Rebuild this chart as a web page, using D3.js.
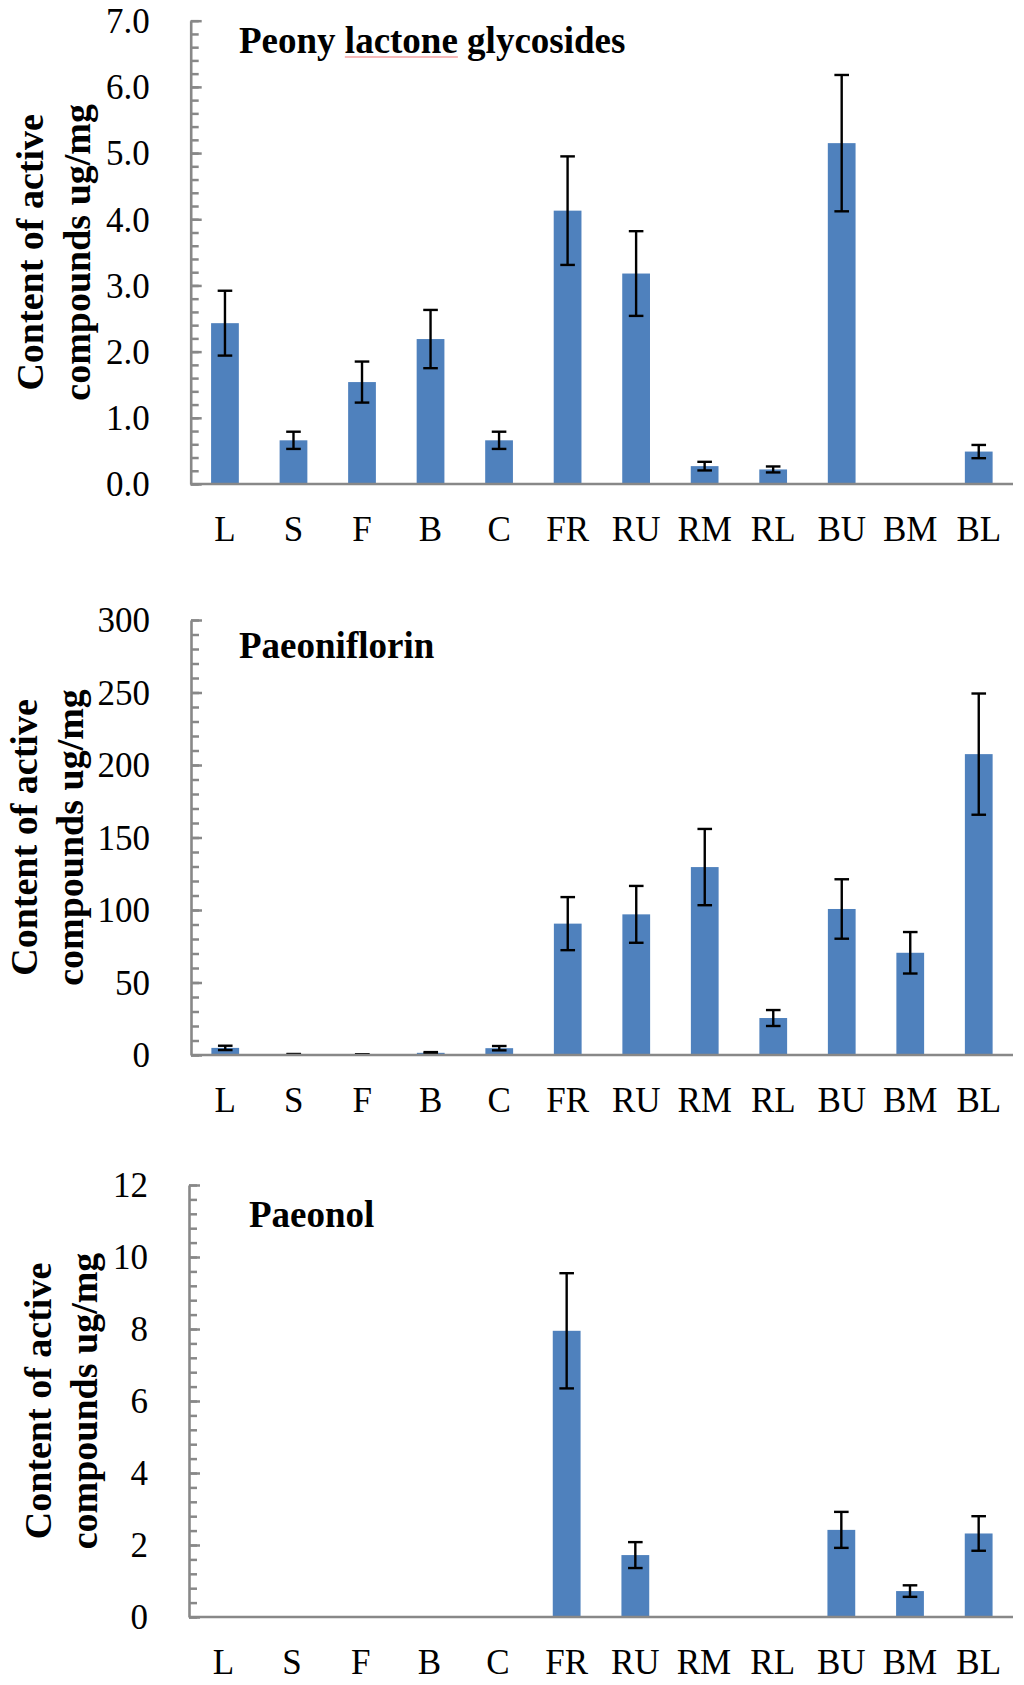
<!DOCTYPE html>
<html>
<head>
<meta charset="utf-8">
<script src="https://cdn.jsdelivr.net/npm/d3@7"></script>
<style>
  html, body { margin: 0; padding: 0; background: #ffffff; }
  svg { display: block; }
</style>
</head>
<body>
<svg id="chart"></svg>
<script>
const categories = ['L', 'S', 'F', 'B', 'C', 'FR', 'RU', 'RM', 'RL', 'BU', 'BM', 'BL'];

// Peony lactone glycosides
const peonyValues = [2.43, 0.66, 1.54, 2.19, 0.66, 4.13, 3.18, 0.27, 0.22, 5.15, 0, 0.49];
const peonyErrors = [0.49, 0.13, 0.31, 0.44, 0.13, 0.82, 0.64, 0.065, 0.045, 1.03, 0, 0.1];
const peonyTicks = [0, 1, 2, 3, 4, 5, 6, 7];

// Paeoniflorin
const paeoniflorinValues = [4.9, 0.5, 0.4, 1.5, 4.7, 90.6, 97, 129.6, 25.5, 100.7, 70.5, 207.5];
const paeoniflorinErrors = [1.5, 0.2, 0.1, 0.5, 1.5, 18.3, 19.6, 26.3, 5.5, 20.5, 14.3, 41.8];
const paeoniflorinTicks = [0, 50, 100, 150, 200, 250, 300];

// Paeonol
const paeonolValues = [0, 0, 0, 0, 0, 7.95, 1.72, 0, 0, 2.42, 0.72, 2.32];
const paeonolErrors = [0, 0, 0, 0, 0, 1.6, 0.36, 0, 0, 0.5, 0.16, 0.48];
const paeonolTicks = [0, 2, 4, 6, 8, 10, 12];

const width = 1024, height = 1685;
const barColor = '#4f81bd';
const axisColor = '#888888';
const serif = '"Liberation Serif", "Times New Roman", serif';

const svg = d3.select('#chart')
  .attr('width', width)
  .attr('height', height)
  .attr('font-family', serif);

const panels = [
  { title: 'Peony lactone glycosides', values: peonyValues, errors: peonyErrors, ticks: peonyTicks,
    minor: 0.2, fmt: d3.format('.1f'), top: 20.7, bottom: 484, left: 190.7, titleX: 239, titleY: 53,
    lab1: 43, lab2: 90 },
  { title: 'Paeoniflorin', values: paeoniflorinValues, errors: paeoniflorinErrors, ticks: paeoniflorinTicks,
    minor: 10, fmt: d3.format('d'), top: 620, bottom: 1055, left: 191, titleX: 239, titleY: 658,
    lab1: 37, lab2: 83 },
  { title: 'Paeonol', values: paeonolValues, errors: paeonolErrors, ticks: paeonolTicks,
    minor: 0.4, fmt: d3.format('d'), top: 1185, bottom: 1617, left: 189, titleX: 249, titleY: 1227,
    lab1: 51, lab2: 97 }
];

const right = 1013;

panels.forEach((p, pi) => {
  const g = svg.append('g');
  const maxV = p.ticks[p.ticks.length - 1];

  const x = d3.scaleBand()
    .domain(categories)
    .range([p.left, right])
    .paddingInner(0.595)
    .paddingOuter(0.2975);

  const y = d3.scaleLinear()
    .domain([0, maxV])
    .range([p.bottom, p.top]);

  // bars
  g.selectAll('rect.bar')
    .data(categories)
    .enter().append('rect')
    .attr('class', 'bar')
    .attr('x', d => x(d))
    .attr('width', x.bandwidth())
    .attr('y', (d, i) => y(p.values[i]))
    .attr('height', (d, i) => p.bottom - y(p.values[i]))
    .attr('fill', barColor);

  // error bars
  const errIdx = categories.map((d, i) => i).filter(i => p.values[i] > 0);
  const capW = 7.3;
  const err = g.selectAll('g.err')
    .data(errIdx)
    .enter().append('g')
    .attr('class', 'err')
    .attr('stroke', '#000')
    .attr('stroke-width', 2.4);
  err.append('line')
    .attr('x1', i => x(categories[i]) + x.bandwidth() / 2)
    .attr('x2', i => x(categories[i]) + x.bandwidth() / 2)
    .attr('y1', i => y(p.values[i] + p.errors[i]))
    .attr('y2', i => y(Math.max(0, p.values[i] - p.errors[i])));
  err.append('line')
    .attr('x1', i => x(categories[i]) + x.bandwidth() / 2 - capW)
    .attr('x2', i => x(categories[i]) + x.bandwidth() / 2 + capW)
    .attr('y1', i => y(p.values[i] + p.errors[i]))
    .attr('y2', i => y(p.values[i] + p.errors[i]));
  err.append('line')
    .attr('x1', i => x(categories[i]) + x.bandwidth() / 2 - capW)
    .attr('x2', i => x(categories[i]) + x.bandwidth() / 2 + capW)
    .attr('y1', i => y(Math.max(0, p.values[i] - p.errors[i])))
    .attr('y2', i => y(Math.max(0, p.values[i] - p.errors[i])));

  // y axis: minor ticks, then major ticks pointing inward
  const minorTicks = d3.range(0, maxV + p.minor / 2, p.minor);
  const yMinor = g.append('g')
    .attr('transform', `translate(${p.left},0)`)
    .call(d3.axisRight(y).tickValues(minorTicks).tickSize(8).tickFormat(''));
  yMinor.select('.domain').remove();
  yMinor.selectAll('line').attr('stroke', axisColor).attr('stroke-width', 2.5);

  const yAxis = g.append('g')
    .attr('transform', `translate(${p.left},0)`)
    .call(d3.axisRight(y).tickValues(p.ticks).tickSize(11).tickSizeOuter(0).tickFormat(''));
  yAxis.select('.domain').attr('stroke', axisColor).attr('stroke-width', 2.6);
  yAxis.selectAll('line').attr('stroke', axisColor).attr('stroke-width', 2.5);

  // y tick labels
  g.selectAll('text.ytick')
    .data(p.ticks)
    .enter().append('text')
    .attr('class', 'ytick')
    .attr('x', p.left - 41)
    .attr('y', d => y(d))
    .attr('dy', '0.35em')
    .attr('text-anchor', 'end')
    .attr('font-size', 35)
    .attr('fill', '#000')
    .text(d => p.fmt(d));

  // x axis line
  const xAxis = g.append('g')
    .attr('transform', `translate(0,${p.bottom})`)
    .call(d3.axisBottom(x).tickSize(0).tickSizeOuter(0).tickPadding(0));
  xAxis.select('.domain')
    .attr('d', `M${p.left},0H${right}`)
    .attr('stroke', axisColor)
    .attr('stroke-width', 2.6);
  xAxis.selectAll('text')
    .attr('y', 57)
    .attr('dy', 0)
    .attr('font-size', 35)
    .attr('font-family', serif)
    .attr('fill', '#000');

  // panel title
  const title = g.append('text')
    .attr('x', p.titleX)
    .attr('y', p.titleY)
    .attr('font-size', 37)
    .attr('font-weight', 'bold')
    .attr('fill', '#000')
    .text(p.title);

  if (pi === 0) {
    // red spell-check squiggle under "lactone"
    const node = title.node();
    const s = p.title.indexOf('lactone');
    const x0 = node.getStartPositionOfChar(s).x;
    const x1 = node.getEndPositionOfChar(s + 6).x;
    g.append('line')
      .attr('x1', x0).attr('x2', x1)
      .attr('y1', p.titleY + 4).attr('y2', p.titleY + 4)
      .attr('stroke', '#f4a0a0')
      .attr('stroke-width', 1.4);
  }

  // y axis label, two lines, rotated
  const cy = (p.top + p.bottom) / 2;
  [['Content of active', p.lab1], ['compounds ug/mg', p.lab2]].forEach(([t, bx]) => {
    g.append('text')
      .attr('transform', `translate(${bx},${cy}) rotate(-90)`)
      .attr('text-anchor', 'middle')
      .attr('font-size', 38)
      .attr('font-weight', 'bold')
      .attr('fill', '#000')
      .text(t);
  });
});
</script>
</body>
</html>
